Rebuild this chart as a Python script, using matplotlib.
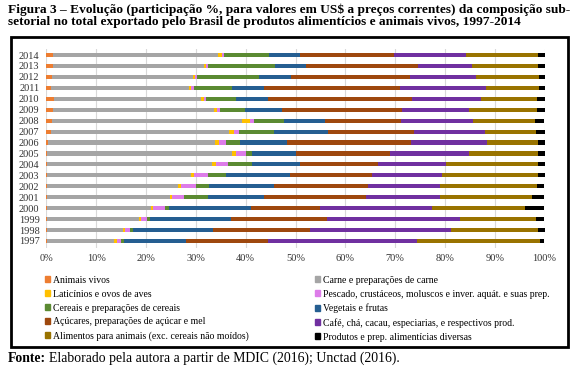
import matplotlib
matplotlib.use("Agg")
import matplotlib.pyplot as plt
import numpy as np
from matplotlib.patches import Rectangle, Patch

plt.rcParams["font.family"] = ["Liberation Serif", "DejaVu Serif"]

years = [1997, 1998, 1999, 2000, 2001, 2002, 2003, 2004, 2005,
         2006, 2007, 2008, 2009, 2010, 2011, 2012, 2013, 2014]

# share (%) per sub-sector, 1997 -> 2014
animais = [0.1, 0.1, 0.1, 0.1, 0.1, 0.1, 0.2, 0.2, 0.2,
           0.3, 0.9, 1.2, 1.4, 1.6, 0.9, 1.2, 1.4, 1.4]
carne = [13.5, 15.3, 18.5, 20.9, 24.6, 26.4, 28.9, 33.1, 37.0,
         33.5, 35.7, 38.1, 32.2, 29.4, 27.7, 28.3, 30.2, 33.0]
laticinios = [0.5, 0.4, 0.3, 0.3, 0.5, 0.5, 0.5, 0.7, 0.8,
              0.8, 1.1, 1.6, 0.6, 0.6, 0.5, 0.4, 0.4, 0.8]
pescado = [0.8, 1.0, 1.2, 2.5, 2.4, 3.0, 2.8, 2.4, 2.0,
           1.4, 1.0, 0.8, 0.6, 0.4, 0.5, 0.3, 0.4, 0.4]
cereais = [0.7, 0.6, 0.7, 0.8, 4.8, 2.6, 3.6, 4.8, 1.2,
           2.9, 7.0, 6.0, 5.1, 6.1, 7.6, 12.5, 13.5, 9.1]
vegetais = [12.5, 16.1, 16.3, 16.5, 11.3, 13.1, 12.8, 9.8, 8.8,
            9.3, 10.9, 8.2, 7.4, 6.4, 6.4, 6.3, 6.2, 6.2]
acucares = [16.4, 19.4, 19.2, 13.8, 20.5, 18.8, 16.5, 15.6, 19.0,
            25.0, 17.1, 15.3, 24.1, 28.8, 27.3, 23.9, 22.4, 18.9]
cafe = [29.8, 28.3, 26.7, 22.6, 14.8, 14.5, 14.1, 13.6, 15.9,
        15.2, 14.3, 14.4, 13.5, 14.0, 17.3, 13.3, 10.9, 14.4]
alimentos = [24.8, 17.5, 15.2, 18.6, 18.4, 19.4, 19.2, 18.4, 13.7,
             10.2, 10.2, 12.4, 13.5, 11.1, 10.7, 12.7, 13.3, 14.5]
produtos = [0.9, 1.3, 1.8, 3.9, 2.6, 1.6, 1.4, 1.4, 1.4,
            1.4, 1.8, 2.0, 1.6, 1.6, 1.1, 1.1, 1.3, 1.3]

series = [
    ("Animais vivos", animais, "#ED7D31"),
    ("Carne e preparações de carne", carne, "#A5A5A5"),
    ("Laticínios e ovos de aves", laticinios, "#FFC000"),
    ("Pescado, crustáceos, moluscos e inver. aquát. e suas prep.", pescado, "#DD7CE9"),
    ("Cereais e preparações de cereais", cereais, "#5B8A32"),
    ("Vegetais e frutas", vegetais, "#255E91"),
    ("Açúcares, preparações de açúcar e mel", acucares, "#9E480E"),
    ("Café, chá, cacau, especiarias, e respectivos prod.", cafe, "#7030A0"),
    ("Alimentos para animais (exc. cereais não moídos)", alimentos, "#997300"),
    ("Produtos e prep. alimentícias diversas", produtos, "#000000"),
]

W, H = 580, 372
fig = plt.figure(figsize=(W / 100, H / 100), dpi=100)

# frame around chart + legend
fig.patches.append(Rectangle((11 / W, 1 - 347 / H), 557 / W, 310 / H,
                             transform=fig.transFigure, fill=False,
                             edgecolor="black", linewidth=2))

ax = fig.add_axes([46.5 / W, 1 - 247.5 / H, 498 / W, 199 / H])
ypos = np.arange(len(years))
left = np.zeros(len(years))
handles = []
for name, vals, color in series:
    v = np.array(vals) / 100
    ax.barh(ypos, v, left=left, height=0.38, color=color, zorder=2)
    left += v
    handles.append(Patch(color=color, label=name))

ax.set_xlim(0, 1)
ax.set_ylim(-0.6, len(years) - 0.4)
ax.set_xticks(np.arange(0, 1.01, 0.1))
ax.set_xticklabels([f"{int(round(t * 100))}%" for t in np.arange(0, 1.01, 0.1)])
ax.set_yticks(ypos)
ax.set_yticklabels([str(y) for y in years])
ax.tick_params(length=0, labelsize=7.5, colors="#333333", pad=5)
ax.grid(axis="x", color="#d9d9d9", linewidth=0.8, zorder=0)
for s in ax.spines.values():
    s.set_visible(False)

# legend in two columns (row-wise order)
kw = dict(frameon=False, fontsize=7, handlelength=0.55, handleheight=0.55,
          handletextpad=0.25, labelspacing=0.5, borderpad=0, loc="upper left")
fig.legend(handles=handles[0::2], bbox_to_anchor=(40 / W, 1 - 271 / H), **kw)
fig.legend(handles=handles[1::2], bbox_to_anchor=(310 / W, 1 - 271 / H), **kw)

fig.text(8 / W, 1 - 3 / H,
         "Figura 3 – Evolução (participação %, para valores em US$ a preços correntes) da composição sub-\n"
         "setorial no total exportado pelo Brasil de produtos alimentícios e animais vivos, 1997-2014",
         fontsize=9.6, fontweight="bold", va="top", ha="left", linespacing=1.0)

t1 = fig.text(8 / W, 1 - 358 / H, "Fonte:", fontsize=9.9, fontweight="bold", va="center")
fig.canvas.draw()
bb = t1.get_window_extent()
fig.text(bb.x1 / W + 3 / W, 1 - 358 / H,
         "Elaborado pela autora a partir de MDIC (2016); Unctad (2016).",
         fontsize=9.9, va="center")

fig.savefig("out.png", dpi=100)
